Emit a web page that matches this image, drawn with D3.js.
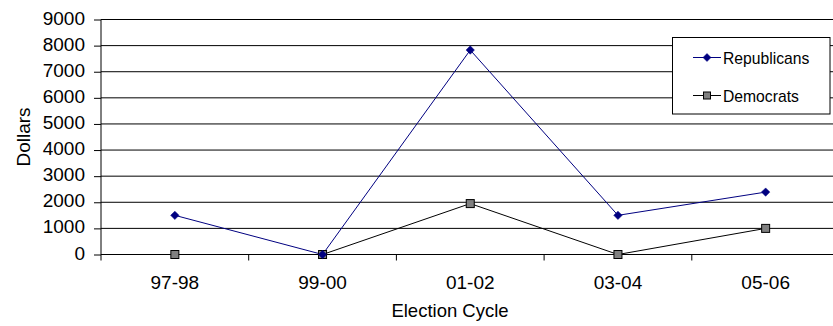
<!DOCTYPE html>
<html>
<head>
<meta charset="utf-8">
<script src="https://cdn.jsdelivr.net/npm/d3@7"></script>
<style>
  html, body { margin: 0; padding: 0; background: #fff; }
  svg { display: block; font-family: "Liberation Sans", Arial, sans-serif; }
</style>
</head>
<body>
<svg id="chart" width="833" height="326"></svg>
<script>
const categories = ["97-98", "99-00", "01-02", "03-04", "05-06"];
const republicans = [1500, 0, 7830, 1500, 2390];
const democrats = [0, 0, 1950, 0, 1000];
const yTicks = [0, 1000, 2000, 3000, 4000, 5000, 6000, 7000, 8000, 9000];
const seriesNames = ["Republicans", "Democrats"];
const xTitle = "Election Cycle";
const yTitle = "Dollars";

(function () {
const svg = d3.select("#chart");
const W = 833, H = 326;
svg.append("rect").attr("width", W).attr("height", H).attr("fill", "#fff");

const pL = 101, pR = 839.5, pT = 19.5, pB = 254.5;
const x = d3.scaleBand().domain(categories).range([pL, pR]).padding(0);
const y = d3.scaleLinear().domain([0, 9000]).range([pB, pT]);

// gridlines
svg.append("g").selectAll("line").data(yTicks.filter(d => d > 0)).join("line")
  .attr("x1", pL).attr("x2", pR)
  .attr("y1", d => y(d)).attr("y2", d => y(d))
  .attr("stroke", "#000").attr("stroke-width", 1);

// y axis
const yAxis = svg.append("g").attr("transform", `translate(${pL},0)`)
  .call(d3.axisLeft(y).tickValues(yTicks).tickSize(7).tickPadding(9).tickFormat(d3.format("d")));
yAxis.select(".domain").attr("d", `M0,${pT}V${pB + 6}`).attr("stroke", "#000");
yAxis.selectAll(".tick line").attr("stroke", "#000");
yAxis.selectAll("text").attr("font-size", 19).attr("font-family", "Liberation Sans, Arial, sans-serif")
  .attr("fill", "#000").attr("dy", "0.24em");

// x axis
const xAxis = svg.append("g").attr("transform", `translate(0,${pB})`)
  .call(d3.axisBottom(x).tickSize(0).tickPadding(21));
xAxis.select(".domain").attr("d", `M${pL},0H${pR}`).attr("stroke", "#000");
xAxis.selectAll("text").attr("font-size", 19).attr("font-family", "Liberation Sans, Arial, sans-serif")
  .attr("fill", "#000");
const bounds = categories.map(c => x(c)).concat([x(categories[categories.length - 1]) + x.bandwidth()]);
xAxis.selectAll("line.bnd").data(bounds.slice(1)).join("line").attr("class", "bnd")
  .attr("x1", d => d).attr("x2", d => d).attr("y1", 0).attr("y2", 6)
  .attr("stroke", "#000");

// titles
svg.append("text").attr("x", 450).attr("y", 316.5).attr("text-anchor", "middle")
  .attr("font-size", 18.5).attr("fill", "#000").text(xTitle);
svg.append("text").attr("transform", `translate(29.5,137) rotate(-90)`).attr("text-anchor", "middle")
  .attr("font-size", 19).attr("fill", "#000").text(yTitle);

const cx = c => x(c) + x.bandwidth() / 2;
const repColor = "#000080";
const line = d3.line().x((d, i) => cx(categories[i])).y(d => y(d));

// Democrats
svg.append("path").datum(democrats).attr("d", line).attr("fill", "none").attr("stroke", "#000").attr("stroke-width", 1);
// Republicans
svg.append("path").datum(republicans).attr("d", line).attr("fill", "none").attr("stroke", repColor).attr("stroke-width", 1);

const diamond = (s) => `M0,${-s}L${s},0L0,${s}L${-s},0Z`;
svg.append("g").selectAll("rect").data(democrats).join("rect")
  .attr("x", (d, i) => cx(categories[i]) - 4).attr("y", d => y(d) - 4)
  .attr("width", 8).attr("height", 8)
  .attr("fill", "#808080").attr("stroke", "#000").attr("stroke-width", 1);
svg.append("g").selectAll("path").data(republicans).join("path")
  .attr("transform", (d, i) => `translate(${cx(categories[i])},${y(d)})`)
  .attr("d", diamond(4.2)).attr("fill", repColor).attr("stroke", repColor).attr("stroke-width", 0.5);

// legend
const lg = svg.append("g");
lg.append("rect").attr("x", 672.5).attr("y", 37.5).attr("width", 157.5).attr("height", 76.5)
  .attr("fill", "#fff").attr("stroke", "#000").attr("stroke-width", 1);
const ly = [57.5, 95.5];
lg.append("line").attr("x1", 693).attr("x2", 721).attr("y1", ly[0]).attr("y2", ly[0]).attr("stroke", repColor);
lg.append("path").attr("transform", `translate(707,${ly[0]})`).attr("d", diamond(4)).attr("fill", repColor).attr("stroke", repColor).attr("stroke-width", 0.5);
lg.append("text").attr("x", 723).attr("y", 64.3).attr("font-size", 15.7).attr("fill", "#000").text(seriesNames[0]);
lg.append("line").attr("x1", 693).attr("x2", 721).attr("y1", ly[1]).attr("y2", ly[1]).attr("stroke", "#000");
lg.append("rect").attr("x", 703.5).attr("y", ly[1] - 3.5).attr("width", 7).attr("height", 7).attr("fill", "#808080").attr("stroke", "#000");
lg.append("text").attr("x", 723).attr("y", 101.7).attr("font-size", 15.7).attr("fill", "#000").text(seriesNames[1]);
})();
</script>
</body>
</html>
